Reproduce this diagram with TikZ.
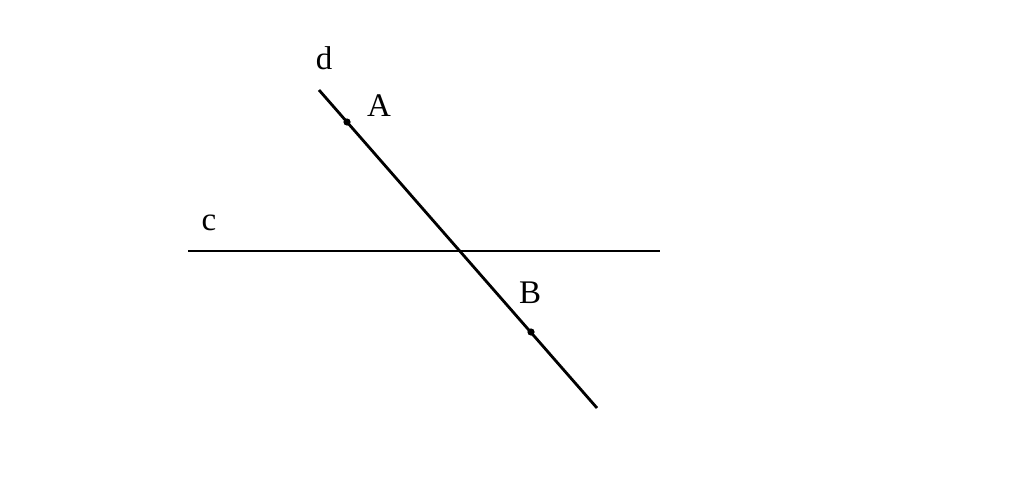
\documentclass[tikz,border=0pt]{standalone}
\usepackage{fontspec}
\setmainfont{Liberation Serif}
\begin{document}
\begin{tikzpicture}[x=1pt,y=-1pt,line width=2.8pt,
  lbl/.style={font=\fontsize{33}{33}\selectfont,inner sep=0pt}]
\useasboundingbox (0,0) rectangle (1024,490);
\coordinate (c1) at (188,251);
\coordinate (c2) at (660,251);
\coordinate (d1) at (319,90);
\coordinate (d2) at (597,408);
\coordinate (A) at (347,122);
\coordinate (B) at (531,332);

\draw (c1) -- (c2);
\draw (d1) -- (d2);

\fill (A) circle (3.6);
\fill (B) circle (3.6);

\node[lbl] (ld) at (324,58) {d};
\node[lbl] (lA) at (379,106) {A};
\node[lbl] (lc) at (209,223) {c};
\node[lbl] (lB) at (530,293) {B};
\end{tikzpicture}
\end{document}
